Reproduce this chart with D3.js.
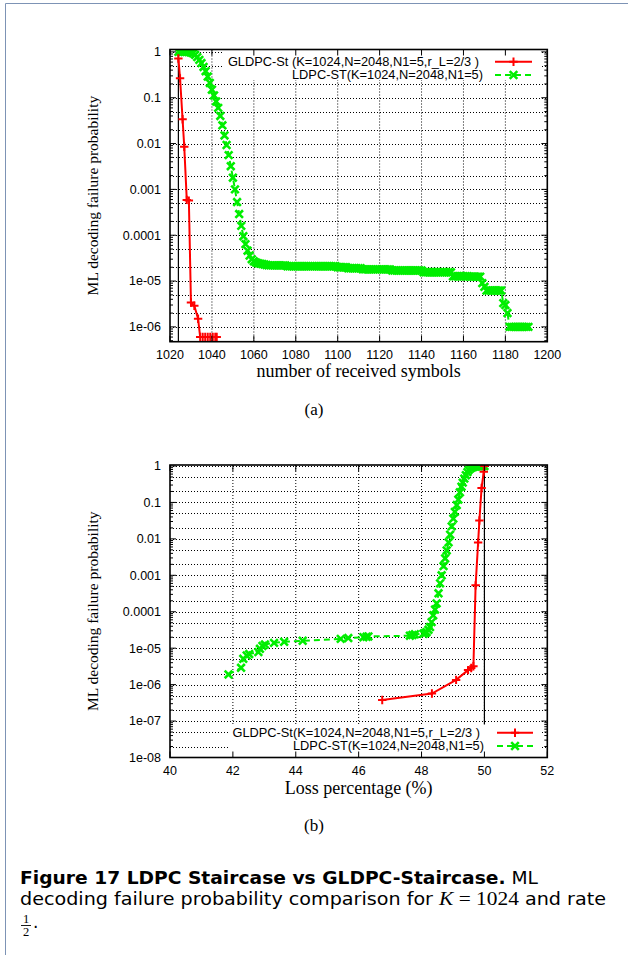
<!DOCTYPE html>
<html><head><meta charset="utf-8">
<script src="https://cdn.jsdelivr.net/npm/d3@7/dist/d3.min.js"></script>
<style>html,body{margin:0;padding:0;background:#fff}svg{display:block}</style>
</head><body>
<script>
// ---------- DATA ----------
const legendTop = ["GLDPC-St (K=1024,N=2048,N1=5,r_L=2/3 )", "LDPC-ST(K=1024,N=2048,N1=5)"];
const legendBottom = ["GLDPC-St(K=1024,N=2048,N1=5,r_L=2/3 )", "LDPC-ST(K=1024,N=2048,N1=5)"];
const xTicksTop = [1020,1040,1060,1080,1100,1120,1140,1160,1180,1200];
const xTicksBottom = [40,42,44,46,48,50,52];
const yTicksTop = [[1,"1"],[0.1,"0.1"],[0.01,"0.01"],[0.001,"0.001"],[1e-4,"0.0001"],[1e-5,"1e-05"],[1e-6,"1e-06"]];
const yTicksBottom = [[1,"1"],[0.1,"0.1"],[0.01,"0.01"],[0.001,"0.001"],[1e-4,"0.0001"],[1e-5,"1e-05"],[1e-6,"1e-06"],[1e-7,"1e-07"],[1e-8,"1e-08"]];

// (a) number of received symbols vs ML decoding failure probability
const gldpcTop = [[1024,0.72],[1024.8,0.265],[1026,0.034],[1026.8,0.0085],[1028,5.9e-4],[1029,5.7e-4],
  [1030,3.4e-6],[1031.6,2.9e-6],[1033.4,1.5e-6],[1034.4,6e-7],[1035.6,6e-7],[1036.8,6e-7],[1038,6e-7],
  [1039.2,6e-7],[1040.4,6e-7],[1041.6,6e-7],[1042.3,6e-7]];
const ldpcTop = [[1024,1],[1025,1],[1026,1],[1027,1],[1028,1],[1029,0.99],[1030,0.97],[1031,0.93],[1032,0.86],
  [1033,0.77],[1034,0.67],[1035,0.57],[1036,0.47],[1037,0.38],[1038,0.29],[1039,0.21],[1040,0.15],[1041,0.112],
  [1042,0.083],[1043,0.06],[1044,0.04],[1045,0.025],[1046,0.015],[1047,0.0093],[1048,0.0056],[1049,0.0032],
  [1050,0.0018],[1051,0.001],[1052,5.3e-4],[1053,2.9e-4],[1054,1.6e-4],[1055,9.5e-5],[1056,6.4e-5],[1057,4.6e-5],
  [1058,3.6e-5],[1059,3.0e-5],[1060,2.7e-5],[1061,2.55e-5],[1062,2.45e-5],[1063,2.4e-5],[1064,2.35e-5],
  [1065,2.3e-5],[1066,2.25e-5],[1067,2.2e-5],[1068,2.2e-5],[1069,2.2e-5],[1070,2.2e-5],[1071,2.2e-5],
  [1072,2.2e-5],[1073,2.2e-5],[1074,2.2e-5],[1075,2.2e-5],[1076,2.1e-5],[1077,2.1e-5],[1078,2.1e-5],
  [1079,2.1e-5],[1080,2.1e-5],[1081,2.1e-5],[1082,2.1e-5],[1083,2.1e-5],[1084,2.1e-5],[1085,2.1e-5],
  [1086,2.1e-5],[1087,2.1e-5],[1088,2.1e-5],[1089,2.1e-5],[1090,2.1e-5],[1091,2.1e-5],[1092,2.1e-5],
  [1093,2.1e-5],[1094,2.1e-5],[1095,2.1e-5],[1096,2.1e-5],[1097,2.1e-5],[1098,2.1e-5],[1099,2.1e-5],
  [1100,2.0e-5],[1101,2.0e-5],[1102,2.0e-5],[1103,2.0e-5],[1104,2.0e-5],[1105,1.9e-5],[1106,1.9e-5],
  [1107,1.9e-5],[1108,1.9e-5],[1109,1.9e-5],[1110,1.9e-5],[1111,1.9e-5],[1112,1.8e-5],[1113,1.8e-5],
  [1114,1.8e-5],[1115,1.8e-5],[1116,1.8e-5],[1117,1.8e-5],[1118,1.8e-5],[1119,1.8e-5],[1120,1.8e-5],
  [1121,1.8e-5],[1122,1.8e-5],[1123,1.8e-5],[1124,1.8e-5],[1125,1.8e-5],[1126,1.7e-5],[1127,1.7e-5],
  [1128,1.7e-5],[1129,1.7e-5],[1130,1.7e-5],[1131,1.7e-5],[1132,1.7e-5],[1133,1.7e-5],[1134,1.7e-5],
  [1135,1.7e-5],[1136,1.7e-5],[1137,1.7e-5],[1138,1.7e-5],[1139,1.7e-5],[1140,1.7e-5],[1141,1.55e-5],
  [1142,1.55e-5],[1143,1.55e-5],[1144,1.55e-5],[1145,1.55e-5],[1146,1.55e-5],[1147,1.55e-5],[1148,1.55e-5],
  [1149,1.55e-5],[1150,1.55e-5],[1151,1.55e-5],[1152,1.55e-5],[1153,1.55e-5],[1154,1.55e-5],[1155,1.27e-5],
  [1156,1.27e-5],[1157,1.27e-5],[1158,1.27e-5],[1159,1.27e-5],[1160,1.27e-5],[1161,1.27e-5],[1162,1.27e-5],
  [1163,1.25e-5],[1164,1.25e-5],[1165,1.25e-5],[1166,1.25e-5],[1167,1.25e-5],[1168,1.25e-5],[1169,9e-6],
  [1170,7.5e-6],[1171,6.2e-6],[1172,6.2e-6],[1173,6.2e-6],[1174,6.2e-6],[1175,6.2e-6],[1176,6.2e-6],
  [1177,6.2e-6],[1178,6.2e-6],[1179,3.3e-6],[1180,3.0e-6],[1181,2.0e-6],[1182,1e-6],[1183,1e-6],[1184,1e-6],
  [1185,1e-6],[1186,1e-6],[1187,1e-6],[1188,1e-6],[1189,1e-6],[1190,1e-6],[1191,1e-6]];

// (b) loss percentage vs ML decoding failure probability
const gldpcBottom = [[46.75,3.8e-7],[48.33,5.7e-7],[49.1,1.35e-6],[49.48,2.5e-6],[49.58,2.85e-6],[49.65,3.2e-6],
  [49.72,5.3e-4],[49.8,8e-3],[49.84,0.032],[49.91,0.25],[49.98,0.7],[50.0,1]];
const ldpcBottom = [[41.86,1.9e-6],[42.26,2.9e-6],[42.33,5.1e-6],[42.44,6.3e-6],[42.52,6.9e-6],[42.81,7.8e-6],
  [42.86,9.6e-6],[42.94,1.15e-5],[43.02,1.26e-5],[43.31,1.4e-5],[43.63,1.5e-5],[44.22,1.6e-5],[45.43,1.8e-5],
  [45.67,1.9e-5],[46.15,2.0e-5],[46.25,2.05e-5],[46.31,2.1e-5],[47.63,2.2e-5],[47.71,2.3e-5],[47.79,2.4e-5],
  [48.06,2.5e-5],[48.11,2.6e-5],[48.16,2.75e-5],[48.22,3.2e-5],[48.27,3.8e-5],[48.32,5.2e-5],[48.37,8e-5],
  [48.43,1.15e-4],[48.48,1.7e-4],[48.54,3.2e-4],[48.59,6e-4],[48.64,1e-3],[48.7,1.8e-3],[48.75,2.9e-3],
  [48.8,4.8e-3],[48.86,8e-3],[48.91,0.013],[48.96,0.022],[49.01,0.036],[49.06,0.055],[49.12,0.085],
  [49.17,0.12],[49.22,0.19],[49.27,0.27],[49.31,0.35],[49.36,0.45],[49.41,0.56],[49.46,0.68],[49.5,0.78],
  [49.56,0.86],[49.61,0.92],[49.66,0.95],[49.71,0.97],[49.76,0.98],[49.8,0.99],[49.85,0.99],[49.9,1],
  [49.95,1],[50,1]];

const kLineTop = 1024;   // vertical reference line (K)
const kLineBottom = 50;  // 50 % loss

// ---------- DRAW ----------
const W = 628, H = 955;
const RED = "#ff0000", GREEN = "#00ee00";
const SANS = "'Liberation Sans', Arial, sans-serif";
const SERIF = "'Liberation Serif', 'Times New Roman', serif";
const svg = d3.select("body").append("svg").attr("width", W).attr("height", H);
svg.append("rect").attr("width", W).attr("height", H).attr("fill", "#fff");
svg.append("path").attr("d", `M5.5,${H} V3.5 H${W}`).attr("fill", "none").attr("stroke", "#7d93b5").attr("stroke-width", 1);

function plusMark(g, x, y, s) {
  g.append("path").attr("d", `M${x - s},${y}H${x + s}M${x},${y - s}V${y + s}`)
    .attr("stroke", RED).attr("stroke-width", 2).attr("fill", "none");
}
function crossMark(g, x, y, s) {
  g.append("path").attr("d", `M${x - s},${y - s}L${x + s},${y + s}M${x - s},${y + s}L${x + s},${y - s}`)
    .attr("stroke", GREEN).attr("stroke-width", 2.6).attr("fill", "none");
}

function drawChart(c) {
  const g = svg.append("g");
  const x = d3.scaleLinear().domain(c.xDomain).range([170, 547.3]);
  const y = d3.scaleLog().domain(c.yDomain).range([c.bottom, c.top]);
  const L = 170, R = 547.3, T = c.top, B = c.bottom;

  // grid
  const gridG = g.append("g").attr("stroke", "#000").attr("stroke-width", 1).attr("stroke-dasharray", "1,2").attr("fill", "none");
  c.xTicks.slice(1, -1).forEach(v => gridG.append("line").attr("x1", x(v)).attr("x2", x(v)).attr("y1", T).attr("y2", B));
  const lo = Math.floor(Math.log10(c.yDomain[0])), hi = Math.ceil(Math.log10(c.yDomain[1]));
  for (let e = lo; e <= hi; e++) {
    [1, 2, 5].forEach(m => {
      const v = m * Math.pow(10, e);
      if (v > c.yDomain[0] * 1.001 && v < c.yDomain[1] * 0.999)
        gridG.append("line").attr("x1", L).attr("x2", R).attr("y1", Math.round(y(v)) + 0.5).attr("y2", Math.round(y(v)) + 0.5);
    });
  }

  // vertical reference line
  g.append("line").attr("x1", x(c.kLine)).attr("x2", x(c.kLine)).attr("y1", T).attr("y2", B)
    .attr("stroke", "#000").attr("stroke-width", 1.2);

  // series
  const clip = "clip" + c.id;
  svg.append("clipPath").attr("id", clip).append("rect").attr("x", L).attr("y", T).attr("width", R - L).attr("height", B - T);
  const pg = g.append("g").attr("clip-path", `url(#${clip})`);
  const line = d3.line().x(d => x(d[0])).y(d => y(d[1]));
  pg.append("path").datum(c.ldpc).attr("d", line).attr("fill", "none").attr("stroke", GREEN)
    .attr("stroke-width", 2).attr("stroke-dasharray", "6,4");
  c.ldpc.forEach(d => crossMark(pg, x(d[0]), y(d[1]), 3.8));
  pg.append("path").datum(c.gldpc).attr("d", line).attr("fill", "none").attr("stroke", RED).attr("stroke-width", 2);
  c.gldpc.forEach(d => plusMark(pg, x(d[0]), y(d[1]), 4.2));

  // legend (opaque key)
  const k = c.key;
  g.append("rect").attr("x", k.x0).attr("y", k.y0).attr("width", k.x1 - k.x0).attr("height", k.y1 - k.y0).attr("fill", "#fff");
  c.legend.forEach((t, i) => {
    const yy = k.rows[i];
    g.append("text").attr("x", k.textRight[i]).attr("y", yy).attr("dy", "0.35em").attr("text-anchor", "end")
      .attr("font-family", SANS).attr("font-size", 12.8).attr("fill", "#000").text(t);
    const ln = g.append("line").attr("x1", k.s0).attr("x2", k.s1).attr("y1", yy).attr("y2", yy)
      .attr("stroke", i === 0 ? RED : GREEN).attr("stroke-width", 2);
    if (i === 1) ln.attr("stroke-dasharray", "6,4");
    if (i === 0) plusMark(g, (k.s0 + k.s1) / 2, yy, 4.2); else crossMark(g, (k.s0 + k.s1) / 2, yy, 3.8);
  });

  // ticks (inward, mirrored)
  const tg = g.append("g").attr("stroke", "#000").attr("stroke-width", 1);
  c.xTicks.forEach(v => {
    tg.append("line").attr("x1", x(v)).attr("x2", x(v)).attr("y1", B).attr("y2", B - 6);
    tg.append("line").attr("x1", x(v)).attr("x2", x(v)).attr("y1", T).attr("y2", T + 6);
  });
  for (let e = lo; e <= hi; e++) {
    for (let m = 1; m <= 9; m++) {
      const v = m * Math.pow(10, e);
      if (v < c.yDomain[0] * 0.999 || v > c.yDomain[1] * 1.001) continue;
      const len = m === 1 ? 6 : 3;
      tg.append("line").attr("x1", L).attr("x2", L + len).attr("y1", y(v)).attr("y2", y(v));
      tg.append("line").attr("x1", R).attr("x2", R - len).attr("y1", y(v)).attr("y2", y(v));
    }
  }
  // frame
  g.append("rect").attr("x", L).attr("y", T).attr("width", R - L).attr("height", B - T)
    .attr("fill", "none").attr("stroke", "#000").attr("stroke-width", 1.6);

  // tick labels
  c.xTicks.forEach(v => g.append("text").attr("x", x(v)).attr("y", B + 17).attr("text-anchor", "middle")
    .attr("font-family", SANS).attr("font-size", 12.5).text(v));
  c.yTicks.forEach(d => g.append("text").attr("x", 161).attr("y", y(d[0])).attr("dy", "0.35em").attr("text-anchor", "end")
    .attr("font-family", SANS).attr("font-size", 12.5).text(d[1]));

  // axis titles
  g.append("text").attr("transform", `translate(98,${(T + B) / 2}) rotate(-90)`).attr("text-anchor", "middle")
    .attr("font-family", SERIF).attr("font-size", 15.5).text("ML decoding failure probability");
  g.append("text").attr("x", (L + R) / 2).attr("y", c.xTitleY).attr("text-anchor", "middle")
    .attr("font-family", SERIF).attr("font-size", 18).text(c.xTitle);
  g.append("text").attr("x", 314).attr("y", c.subY).attr("text-anchor", "middle")
    .attr("font-family", SERIF).attr("font-size", 17).text(c.sub);
}

drawChart({
  id: "a", xDomain: [1020, 1200], yDomain: [4.75e-7, 1.128], top: 49.5, bottom: 341.7,
  xTicks: xTicksTop, yTicks: yTicksTop, gldpc: gldpcTop, ldpc: ldpcTop, kLine: kLineTop,
  legend: legendTop,
  key: { x0: 224, x1: 540, y0: 50, y1: 80, rows: [61.7, 75], textRight: [479, 483], s0: 495, s1: 532 },
  xTitle: "number of received symbols", xTitleY: 377, sub: "(a)", subY: 415
});
drawChart({
  id: "b", xDomain: [40, 52], yDomain: [1e-8, 1.065], top: 465, bottom: 757.5,
  xTicks: xTicksBottom, yTicks: yTicksBottom, gldpc: gldpcBottom, ldpc: ldpcBottom, kLine: kLineBottom,
  legend: legendBottom,
  key: { x0: 229, x1: 540, y0: 724.5, y1: 757, rows: [732.7, 746], textRight: [480, 484], s0: 497, s1: 533 },
  xTitle: "Loss percentage (%)", xTitleY: 794, sub: "(b)", subY: 831
});

// caption
const CAPF = "'DejaVu Sans', 'Liberation Sans', sans-serif";
const cap = svg.append("g").attr("font-family", CAPF).attr("font-size", 17).attr("fill", "#000");
const l1 = cap.append("text").attr("x", 20).attr("y", 884).attr("textLength", 518).attr("lengthAdjust", "spacingAndGlyphs");
l1.append("tspan").attr("font-weight", "bold").text("Figure 17  LDPC Staircase vs GLDPC-Staircase.");
l1.append("tspan").text(" ML");
const l2 = cap.append("text").attr("x", 20).attr("y", 905).attr("textLength", 586).attr("lengthAdjust", "spacingAndGlyphs");
l2.append("tspan").text("decoding failure probability comparison for ");
l2.append("tspan").attr("font-family", SERIF).attr("font-style", "italic").attr("font-size", 19).text("K");
l2.append("tspan").attr("font-family", SERIF).attr("font-size", 19).text(" = 1024");
l2.append("tspan").text(" and rate");
cap.append("text").attr("x", 26).attr("y", 922.5).attr("text-anchor", "middle").attr("font-family", SERIF).attr("font-size", 12.5).text("1");
cap.append("line").attr("x1", 21).attr("x2", 31).attr("y1", 925.5).attr("y2", 925.5).attr("stroke", "#000").attr("stroke-width", 0.9);
cap.append("text").attr("x", 26).attr("y", 936).attr("text-anchor", "middle").attr("font-family", SERIF).attr("font-size", 12.5).text("2");
cap.append("text").attr("x", 33).attr("y", 928).text(".");
</script>
</body></html>
